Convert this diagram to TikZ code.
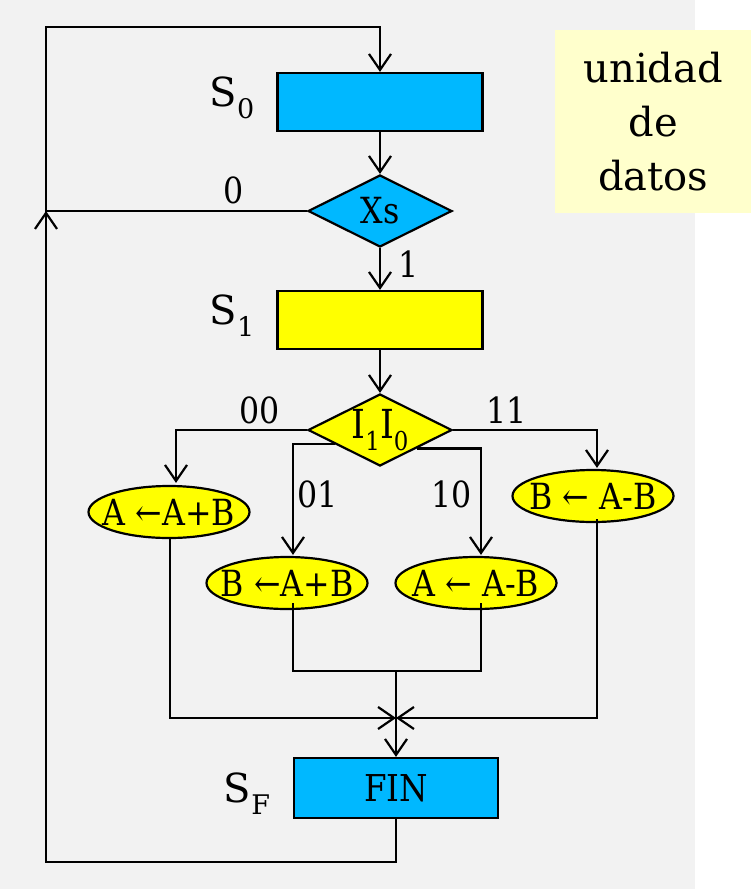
\documentclass[tikz,border=0pt]{standalone}
\usepackage{fontspec}
\setmainfont{DejaVu Serif}
\newfontfamily\cnd{DejaVu Serif}[FakeStretch=0.88]
\usetikzlibrary{shapes.geometric,arrows.meta,calc}
\definecolor{bgg}{HTML}{F2F2F2}
\definecolor{stblue}{RGB}{0,184,255}
\definecolor{styel}{RGB}{255,255,0}
\definecolor{pale}{HTML}{FFFFCC}
\newcommand{\diagsub}[2]{\raisebox{-0.3em}{\fontsize{#2}{#2}\selectfont #1}}
\newcommand{\ctext}[1]{\makebox[0pt]{#1}}
\begin{document}
\begin{tikzpicture}[x=1pt,y=-1pt,
  lw/.style={line width=2.2pt},
  arr/.style={lw,-{Straight Barb[length=16pt,width=22pt,line width=2.2pt]}},
  box/.style={draw,lw,rectangle,minimum width=205pt,minimum height=58pt,inner sep=0pt,font=\cnd\fontsize{37}{37}\selectfont},
  dia/.style={draw,lw,diamond,minimum width=144pt,minimum height=72pt,inner sep=0pt},
  ell/.style={draw,lw,ellipse,minimum width=161pt,minimum height=52pt,inner sep=0pt,fill=styel,font=\cnd\fontsize{36}{36}\selectfont},
  lab/.style={font=\cnd\fontsize{36}{36}\selectfont,inner sep=0pt},
  slab/.style={font=\fontsize{40}{40}\selectfont,inner sep=0pt}]
\useasboundingbox (0,0) rectangle (751,889);
\fill[bgg] (0,0) rectangle (695,889);
\node[fill=pale,minimum width=196pt,minimum height=183pt,inner sep=0pt,anchor=north west,
  align=center,font=\fontsize{40}{54}\selectfont] (ud) at (555,30) {unidad\\de\\datos};

\node[box,fill=stblue] (s0) at (380,102) {};
\node[dia,fill=stblue,font=\cnd\fontsize{36}{36}\selectfont] (xs) at (380,211) {\ctext{Xs}};
\node[box,fill=styel] (s1) at (380,320) {};
\node[dia,fill=styel,font=\cnd\fontsize{40}{40}\selectfont] (ii) at (380,430) {\ctext{I\diagsub{1}{26}I\diagsub{0}{26}}};
\node[ell] (e1) at (169,512) {\ctext{A ←A+B}};
\node[ell] (e4) at (593,496) {\ctext{B ← A-B}};
\node[ell] (e2) at (287,583) {\ctext{B ←A+B}};
\node[ell] (e3) at (476,583) {\ctext{A ← A-B}};
\node[box,fill=stblue,minimum width=204pt,minimum height=60pt] (fin) at (396,788) {FIN};

\node[slab] (ls0) at (232,98) {S\diagsub{0}{27}};
\node[slab] (ls1) at (232,316) {S\diagsub{1}{27}};
\node[slab] (lsf) at (247,794) {S\diagsub{F}{27}};

\node[lab] (l0) at (234,190) {0};
\node[lab] (l1) at (409,264) {1};
\node[lab] (l00) at (260,410) {00};
\node[lab] (l11) at (507,410) {11};
\node[lab] (l01) at (318,494) {01};
\node[lab] (l10) at (452,494) {10};

\coordinate (bl) at (46,862);
\coordinate (lj) at (46,211);
\coordinate (ul) at (46,27);
\coordinate (p01) at ($(ii.west)!0.38!(ii.south)$);
\coordinate (p10) at ($(ii.east)!0.50!(ii.south)$);
\coordinate (mL) at (293,671);
\coordinate (mR) at (481,671);
\coordinate (mC) at (396,671);
\coordinate (jn) at (396,718);

\draw[arr] (fin.south) |- (bl) -- (lj);
\draw[arr] (xs.west) -- (lj) -- (ul) -| (s0.north);
\draw[arr] (s0.south) -- (xs.north);
\draw[arr] (xs.south) -- (s1.north);
\draw[arr] (s1.south) -- (ii.north);
\draw[arr] (ii.west) -| ([xshift=7pt,yshift=2pt]e1.north);
\draw[arr] (ii.east) -| ([xshift=4pt,yshift=1pt]e4.north);
\draw[arr] (p01) -| ([xshift=6pt,yshift=1pt]e2.north);
\draw[arr] (p10) -| ([xshift=5pt,yshift=1pt]e3.north);
\draw[lw] ([xshift=6pt,yshift=7pt]e2.south) -- (mL) -- (mR) -- ([xshift=5pt,yshift=7pt]e3.south);
\draw[arr] (mC) -- (fin.north);
\draw[arr] ([xshift=1pt,yshift=2pt]e1.south) |- (jn);
\draw[arr] ([xshift=4pt,yshift=4pt]e4.south) |- (jn);
\end{tikzpicture}
\end{document}
